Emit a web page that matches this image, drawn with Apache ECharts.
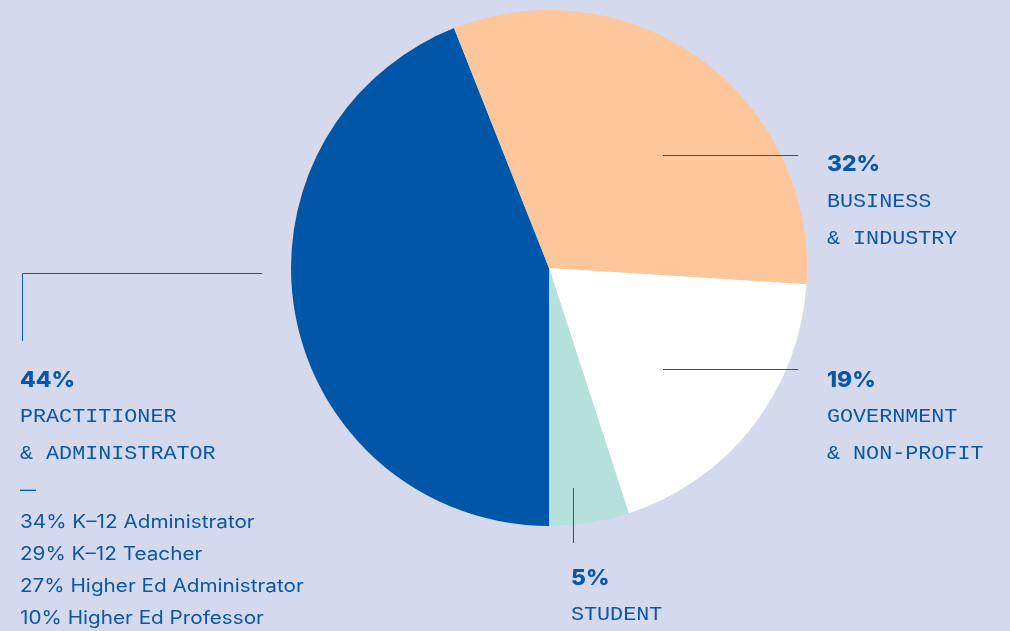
<!DOCTYPE html>
<html>
<head>
<meta charset="utf-8">
<script src="https://cdn.jsdelivr.net/npm/echarts@6/dist/echarts.min.js"></script>
<style>
  html, body { margin: 0; padding: 0; background: #d5d9ed; }
  #main { width: 1010px; height: 631px; }
</style>
</head>
<body>
<div id="main"></div>
<script>
// 数据
var categories = ['PRACTITIONER\n& ADMINISTRATOR', 'BUSINESS\n& INDUSTRY', 'GOVERNMENT\n& NON-PROFIT', 'STUDENT'];
var shares = [44, 32, 19, 5];
var sliceColors = ['#0057a8', '#fdc79b', '#ffffff', '#b6e0dc'];
var subLabels = ['34% K\u201312 Administrator', '29% K\u201312 Teacher', '27% Higher Ed Administrator', '10% Higher Ed Professor'];

var ink = '#0b57a7';
var chart = echarts.init(document.getElementById('main'), null, { renderer: 'canvas' });

// 标签块：x, 百分比基线y, 分类第一行基线y
var blocks = [
  { x: 20, y: 388, cat: 424 },
  { x: 827, y: 172, cat: 209 },
  { x: 827, y: 388, cat: 424 },
  { x: 571, y: 586, cat: 622 }
];
// 引线（半像素对齐，保证 1px 清晰）
var leaders = [
  [[262, 273.5], [22.5, 273.5], [22.5, 341]],
  [[663, 155.5], [798, 155.5]],
  [[663, 369.5], [798, 369.5]],
  [[573.5, 488], [573.5, 543]]
];

var graphics = [];
leaders.forEach(function (pts) {
  graphics.push({
    type: 'polyline', z: 10,
    shape: { points: pts },
    style: { stroke: '#0a5bb3', lineWidth: 1, fill: null }
  });
});
blocks.forEach(function (b, i) {
  graphics.push({
    type: 'text', z: 10, x: b.x, y: b.y - 8, scaleX: 1.04,
    style: { text: shares[i] + '%', fill: ink, font: '800 22px Inter', verticalAlign: 'middle' }
  });
  categories[i].split('\n').forEach(function (line, j) {
    graphics.push({
      type: 'text', z: 10, x: b.x, y: b.cat - 7 + j * 37, scaleX: 1.06,
      style: { text: line, fill: ink, font: '20.5px "Liberation Mono"', verticalAlign: 'middle' }
    });
  });
});
// 分项
graphics.push({
  type: 'text', z: 10, x: 20, y: 490,
  style: { text: '\u2014', fill: ink, font: '16px Inter', verticalAlign: 'middle' }
});
subLabels.forEach(function (t, k) {
  graphics.push({
    type: 'text', z: 10, x: 20, y: 523 + k * 32, scaleX: 1.15,
    style: { text: t, fill: ink, font: '18px Inter', verticalAlign: 'middle' }
  });
});

var option = {
  backgroundColor: '#d5d9ed',
  animation: false,
  series: [{
    type: 'pie',
    center: [549, 268],
    radius: 258,
    startAngle: -90,
    clockwise: true,
    label: { show: false },
    labelLine: { show: false },
    silent: true,
    data: shares.map(function (v, i) {
      return { value: v, name: categories[i], itemStyle: { color: sliceColors[i], borderWidth: 0 } };
    })
  }],
  graphic: graphics
};
chart.setOption(option);
</script>
</body>
</html>
